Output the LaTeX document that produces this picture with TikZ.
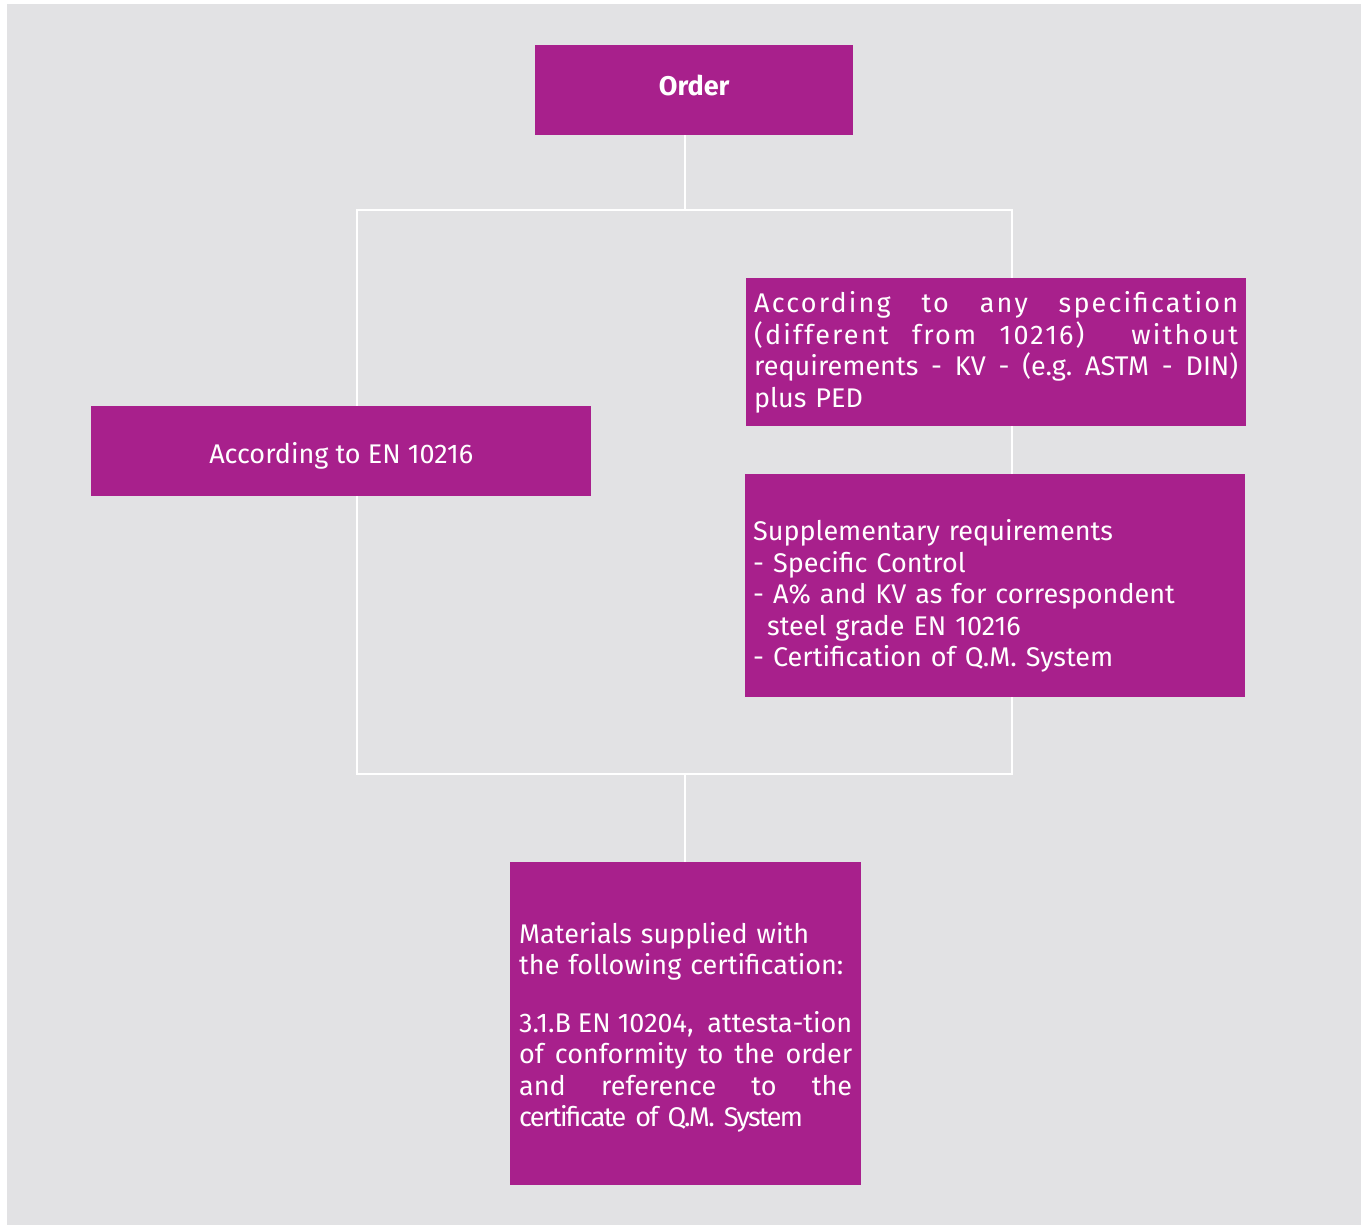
\documentclass[tikz,border=0pt]{standalone}
\usepackage{fontspec}
\setmainfont{Fira Sans}
\definecolor{bggray}{HTML}{E2E2E4}
\definecolor{plum}{HTML}{A8208C}
\newcommand\justline[2]{\leavevmode\hbox to #1{#2}}
\begin{document}
\begin{tikzpicture}[x=1pt,y=-1pt,
  box/.style={fill=plum, text=white, inner ysep=0pt, inner xsep=8pt, anchor=north west,
    font=\fontsize{27}{31.5}\selectfont},
  wire/.style={draw=white, line width=2.5pt}]
\useasboundingbox (0,0) rectangle (1361,1225);
\fill[white] (0,0) rectangle (1361,1225);
\fill[bggray] (7,4) rectangle (1361,1225);

\coordinate (ftop) at (685,210);
\coordinate (fbot) at (685,774);
\coordinate (fnw) at (357,210);
\coordinate (fse) at (1012,774);

\node[box, align=center, minimum width=318pt, minimum height=90pt, inner xsep=0pt] (order) at (535,45) {\raisebox{9pt}{\textbf{Order}}};
\node[box, align=left, text width=333pt, inner xsep=9pt, minimum height=323pt] (cert) at (510,862) {%
\rule{0pt}{28pt}Materials supplied with\\
the following certification:\\[26pt]
\justline{333pt}{3.1.B\hfil EN\hfil 10204,\hfil\hfil attesta-tion}\\
\justline{333pt}{of\hfil conformity\hfil to\hfil the\hfil order}\\
\justline{333pt}{and\hfil reference\hfil to\hfil the}\\
{\addfontfeatures{LetterSpace=-6}certificate of Q.M. System}};

\draw[wire] (order.south -| ftop) -- (ftop);
\draw[wire] (fnw) rectangle (fse);
\draw[wire] (fbot) -- (cert.north -| fbot);

\node[box, align=center, minimum width=500pt, minimum height=90pt, inner xsep=0pt] (en) at (91,406) {\rule{0pt}{30pt}According to EN 10216};
\node[box, align=left, text width=484pt, minimum height=148pt] (spec) at (746,278) {%
\justline{484pt}{\addfontfeatures{LetterSpace=8}According\hfil to\hfil any\hfil specification}\\
\justline{484pt}{\addfontfeatures{LetterSpace=8}(different\hfil from\hfil 10216)\hfil\hfil without}\\
\justline{484pt}{requirements\hfil -\hfil KV\hfil -\hfil (e.g.\hfil ASTM\hfil -\hfil DIN)}\\
plus PED};
\node[box, align=left, text width=484pt, inner xsep=8pt, minimum height=223pt] (supp) at (745,474) {%
\rule{0pt}{42pt}Supplementary requirements\\
- Specific Control\\
- A\% and KV as for correspondent\\
\hspace*{14pt}steel grade EN 10216\\
- Certification of Q.M. System};
\end{tikzpicture}
\end{document}
